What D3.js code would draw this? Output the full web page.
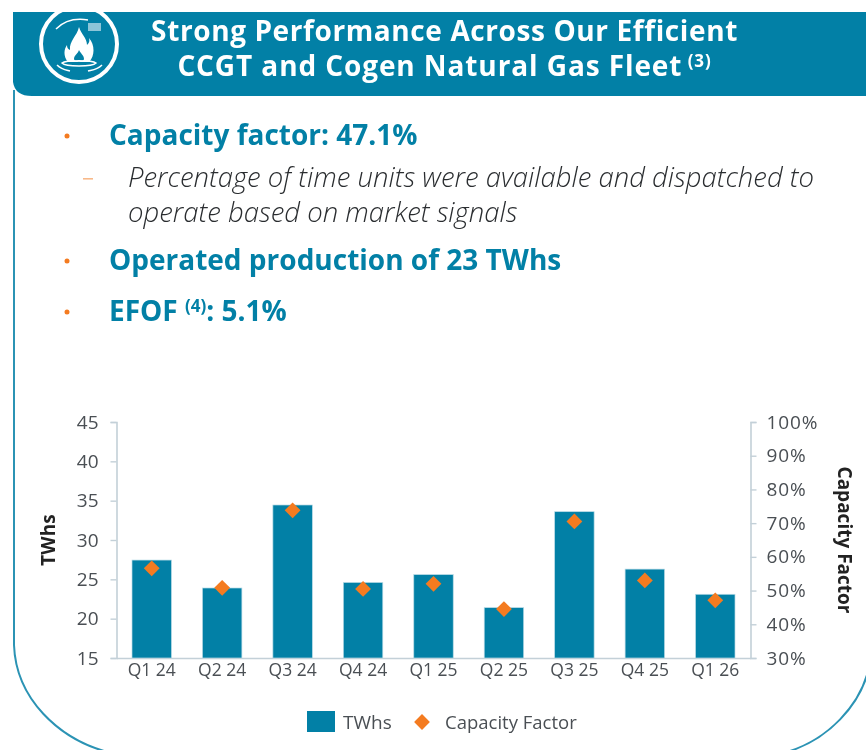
<!DOCTYPE html>
<html><head><meta charset="utf-8">
<script src="https://cdn.jsdelivr.net/npm/d3@7/dist/d3.min.js"></script>
<style>
html,body{margin:0;padding:0;background:#fff;overflow:hidden}
svg{display:block;filter:blur(0.45px)}
text{font-family:"Open Sans",sans-serif}
</style></head><body>
<svg id="c" width="866" height="750"></svg>
<script>
const categories=["Q1 24","Q2 24","Q3 24","Q4 24","Q1 25","Q2 25","Q3 25","Q4 25","Q1 26"];
const twhs=[27.45,23.9,34.45,24.6,25.6,21.4,33.6,26.3,23.1];
const capacityFactor=[56.6,50.8,73.8,50.5,52,44.5,70.5,53,47.1];
const leftTicks=[15,20,25,30,35,40,45];
const rightTicks=[30,40,50,60,70,80,90,100];
const titleLines=["Strong Performance Across Our Efficient","CCGT and Cogen Natural Gas Fleet"];
const teal="#0280a6",orange="#f47b20",axisCol="#c3d0d8",txt="#4a4f54";

const svg=d3.select("#c");
svg.append("path").attr("fill","none").attr("stroke","#2b93b4").attr("stroke-width",2)
 .attr("d","M14,90 L14,645 C16,700 60,738 104,751 M790,751 C830,738 858,705 867,675");
svg.append("path").attr("fill",teal)
 .attr("d","M13,12 L866,12 L866,96 L32,96 Q15,96 13,82 Z");
// icon
const ic=svg.append("g");
ic.append("circle").attr("cx",79).attr("cy",44).attr("r",38).attr("fill","none").attr("stroke","#fff").attr("stroke-width",4);
ic.append("path").attr("fill","#fff").attr("d","M79,27 C81,34 87,38 87,45 C89,43 90,41 89,38 C95,45 95,56 89,62 L68,62 C63,56 64,49 67,45 C67,48 68,49 70,50 C69,41 77,36 79,27 Z");
ic.append("path").attr("fill",teal).attr("d","M79,50 C80,53 84,55 84,59 C84,62 74,62 74,59 C74,55 78,54 79,50 Z");
ic.append("path").attr("fill","none").attr("stroke","#fff").attr("stroke-width",1.5)
 .attr("d","M56,29 C64,21 76,18 88,20 M62,63 C66,60 92,60 96,63 C92,67 66,67 62,63 Z M57,65 C62,70 66,70 70,71 M102,65 C97,70 92,70 88,71");
ic.append("rect").attr("x",88).attr("y",23).attr("width",13).attr("height",8).attr("fill","#8cc5d8");
// title
const tt=svg.append("g").attr("fill","#fff").attr("font-weight",700).attr("font-size",28).attr("text-anchor","middle");
tt.append("text").attr("x",444.5).attr("y",40.5).attr("letter-spacing",0.6).text(titleLines[0]);
const t2=tt.append("text").attr("x",444.5).attr("y",75.5).attr("letter-spacing",0.9).text(titleLines[1]);
t2.append("tspan").attr("font-size",17).attr("dy",-9).text(" (3)");

const head=(y,parts)=>{
 const t=svg.append("text").attr("x",109).attr("y",y).attr("fill",teal).attr("font-weight",700).attr("font-size",28);
 parts.forEach(p=>{const s=t.append("tspan").text(p.t);
  if(p.sup)s.attr("font-size",17).attr("dy",-9); else if(p.down)s.attr("dy",9);});
};
const dot=(y)=>svg.append("circle").attr("cx",67).attr("cy",y).attr("r",2.5).attr("fill",orange);
dot(136);dot(261);dot(312);
svg.append("rect").attr("x",83).attr("y",178).attr("width",10).attr("height",1.6).attr("fill","#f8b98a");
head(145,[{t:"Capacity factor: 47.1%"}]);
head(270,[{t:"Operated production of 23 TWhs"}]);
head(321,[{t:"EFOF "},{t:"(4)",sup:true},{t:": 5.1%",down:true}]);
const it=svg.append("g").attr("fill","#2a2d30").attr("font-style","italic").attr("font-size",27.5).attr("font-weight",300);
it.append("text").attr("x",128).attr("y",187).text("Percentage of time units were available and dispatched to");
it.append("text").attr("x",128).attr("y",222).text("operate based on market signals");

// chart
const L=116.5,R=750.5,T=422,B=658;
const x=d3.scaleBand().domain(categories).range([L,R]).padding(0.44).paddingOuter(0.22);
const yL=d3.scaleLinear().domain([15,45]).range([B,T]);
const yR=d3.scaleLinear().domain([30,100]).range([B,T]);
const style=g=>{g.select(".domain").attr("stroke",axisCol).attr("stroke-width",1.6);
 g.selectAll(".tick line").attr("stroke",axisCol).attr("stroke-width",1.4);
 g.selectAll("text").attr("fill",txt).attr("font-size",19);};
svg.append("g").attr("transform",`translate(${L},0)`)
 .call(d3.axisLeft(yL).tickValues(leftTicks).tickSize(6).tickPadding(12)).call(style);
const ra=svg.append("g").attr("transform",`translate(${R},0)`)
 .call(d3.axisRight(yR).tickValues(rightTicks).tickFormat(d=>d+"%").tickSize(6).tickPadding(10)).call(style);
ra.selectAll("text").attr("letter-spacing",0.9);
const xa=svg.append("g").attr("transform",`translate(0,${B})`)
 .call(d3.axisBottom(x).tickSize(0).tickPadding(6)).call(style);
xa.selectAll("text").attr("font-size",17.5);

svg.append("g").selectAll("rect").data(categories).join("rect")
 .attr("x",d=>x(d)).attr("width",x.bandwidth())
 .attr("y",(d,i)=>yL(twhs[i])).attr("height",(d,i)=>B-yL(twhs[i]))
 .attr("fill",teal).attr("stroke","#b9dbe6").attr("stroke-width",0.7);
const diamond=d3.symbol().type(d3.symbolSquare).size(125);
svg.append("g").selectAll("path").data(categories).join("path")
 .attr("d",diamond)
 .attr("transform",(d,i)=>`translate(${x(d)+x.bandwidth()/2},${yR(capacityFactor[i])}) rotate(45)`)
 .attr("fill",orange);

svg.append("text").attr("transform","translate(55,540) rotate(-90)").attr("text-anchor","middle")
 .attr("font-weight",700).attr("font-size",19).attr("fill","#222").text("TWhs");
svg.append("text").attr("transform","translate(838,540) rotate(90)").attr("text-anchor","middle")
 .attr("font-weight",700).attr("font-size",19).attr("fill","#222").text("Capacity Factor");

svg.append("rect").attr("x",307).attr("y",711).attr("width",28).attr("height",21).attr("fill",teal);
svg.append("text").attr("x",343).attr("y",729).attr("font-size",19).attr("fill",txt).text("TWhs");
svg.append("path").attr("d",diamond).attr("transform","translate(422,722) rotate(45)").attr("fill",orange);
svg.append("text").attr("x",445).attr("y",729).attr("font-size",18.5).attr("fill",txt).text("Capacity Factor");
</script>
</body></html>
